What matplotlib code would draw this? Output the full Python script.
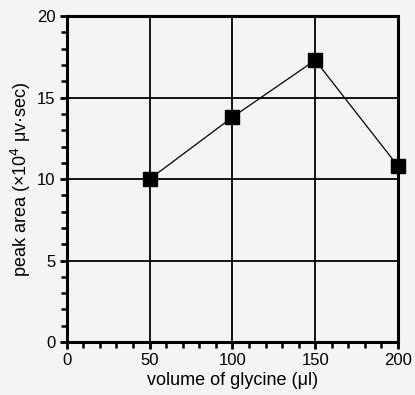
import matplotlib
matplotlib.use("Agg")
import matplotlib.pyplot as plt
from matplotlib.ticker import MultipleLocator

volume = [50, 100, 150, 200]
peak_area = [10.0, 13.8, 17.3, 10.8]
x_ticks = [0, 50, 100, 150, 200]
y_ticks = [0, 5, 10, 15, 20]

plt.rcParams['font.family'] = ['Liberation Sans', 'DejaVu Sans']

fig = plt.figure(figsize=(4.15, 3.95), dpi=100)
fig.patch.set_facecolor('#f4f4f4')
ax = fig.add_axes([0.161, 0.134, 0.798, 0.825])
ax.set_facecolor('#f4f4f4')

ax.plot(volume, peak_area, color='black', lw=0.9, marker='s', ms=10,
        mfc='black', mec='black', zorder=3, clip_on=False)

ax.set_xlim(0, 200)
ax.set_ylim(0, 20)
ax.set_xticks(x_ticks)
ax.set_yticks(y_ticks)
ax.xaxis.set_minor_locator(MultipleLocator(10))
ax.yaxis.set_minor_locator(MultipleLocator(1))
ax.grid(True, which='major', color='black', lw=1.3)
ax.set_axisbelow(True)
for s in ax.spines.values():
    s.set_linewidth(2.2)
ax.tick_params(which='major', direction='out', length=5, width=2, labelsize=12, pad=3)
ax.tick_params(which='minor', direction='out', length=4, width=1.8)

ax.set_xlabel('volume of glycine (μl)', fontsize=13, labelpad=3)
ax.set_ylabel('peak area (×10$^4$ μv·sec)', fontsize=13, labelpad=3)

fig.savefig('out.png', dpi=100, facecolor=fig.get_facecolor())
